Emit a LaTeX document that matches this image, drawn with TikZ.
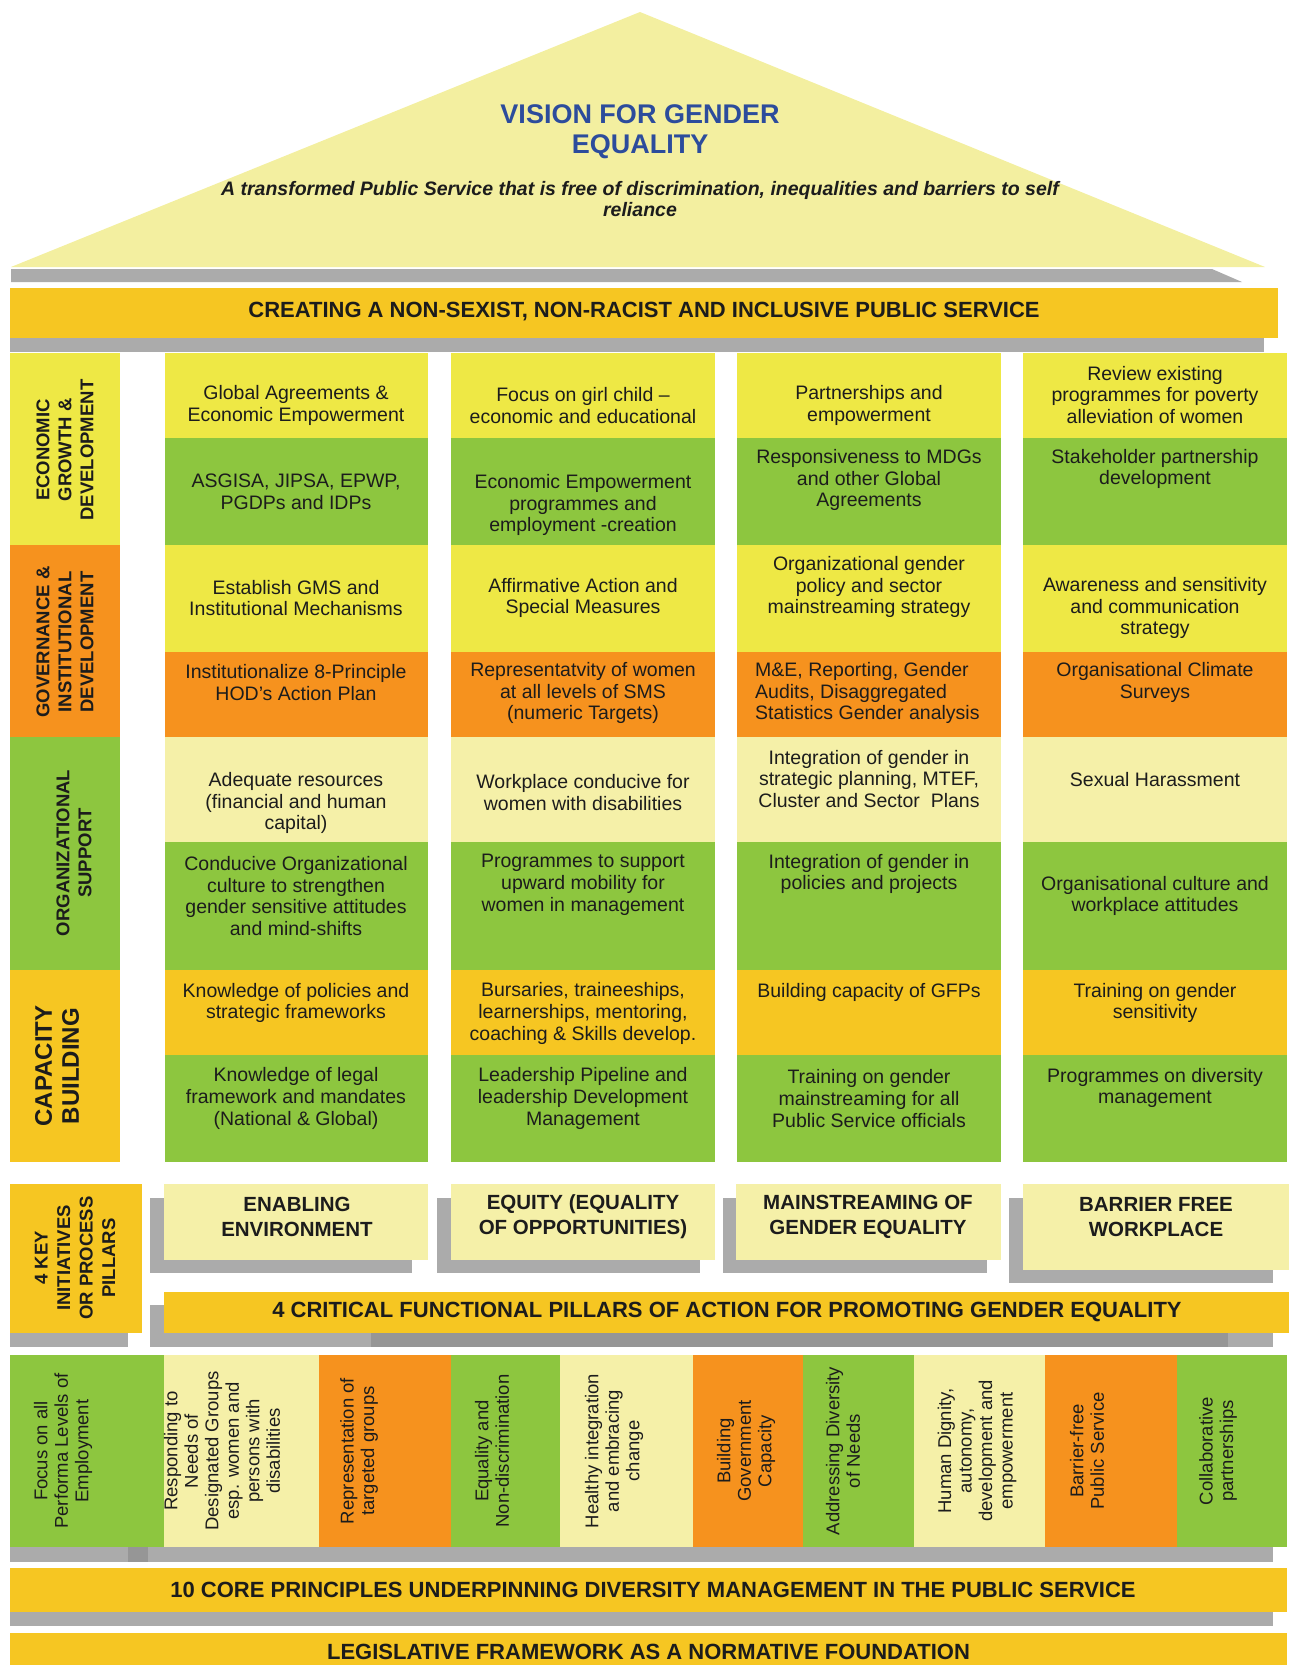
\documentclass[tikz,border=0pt]{standalone}
\usepackage{fontspec}
\setmainfont{Liberation Sans}
\definecolor{cyel}{HTML}{EEE845}
\definecolor{cgrn}{HTML}{8DC63F}
\definecolor{corg}{HTML}{F6921E}
\definecolor{clty}{HTML}{F5F0A8}
\definecolor{cgld}{HTML}{F6C622}
\definecolor{croof}{HTML}{F3EFA0}
\definecolor{cgry}{HTML}{ABABAB}
\definecolor{cgrd}{HTML}{969696}
\definecolor{cblu}{HTML}{2C4C9C}
\definecolor{ctxt}{HTML}{1C1C1C}
\begin{document}
\begin{tikzpicture}[x=1pt,y=-1pt,
  celltxt/.style={align=center,inner sep=0pt,text=ctxt,font=\fontsize{19.5}{21.7}\selectfont},
  cattxt/.style={rotate=90,align=center,inner sep=0pt,text=ctxt,font=\bfseries\fontsize{18.5}{22}\selectfont},
  prtxt/.style={rotate=90,align=center,inner sep=0pt,text=ctxt,font=\fontsize{18.5}{20.5}\selectfont},
  bartxt/.style={inner sep=0pt,text=ctxt,font=\bfseries\fontsize{22}{24}\selectfont},
  pilltxt/.style={align=center,inner sep=0pt,text=ctxt,font=\bfseries\fontsize{20.5}{25}\selectfont},
  vistitle/.style={align=center,inner sep=0pt,text=cblu,font=\bfseries\fontsize{27}{30}\selectfont},
  vissub/.style={align=center,inner sep=0pt,text=ctxt,font=\bfseries\itshape\fontsize{19.5}{21}\selectfont}
]
\useasboundingbox (0,0) rectangle (1292,1665);

% ---------- roof ----------
\fill[croof] (11,267) -- (640,12) -- (1265,267) -- cycle;
\fill[cgry] (11,269) -- (1212,269) -- (1242,282) -- (11,282) -- cycle;
\node[vistitle] (vision) at (640,132) {VISION FOR GENDER\\EQUALITY};
\node[vissub] (visionsub) at (640,199.5) {A transformed Public Service that is free of discrimination, inequalities and barriers to self\\reliance};

% ---------- top bar ----------
\fill[cgry] (10,338) rectangle (1264,352);
\fill[cgld] (10,288) rectangle (1278,338);
\node[bartxt] (creating) at (644,312) {CREATING A NON-SEXIST, NON-RACIST AND INCLUSIVE PUBLIC SERVICE};

% ---------- grid cells ----------
\foreach \xa/\xb in {164.6/428, 451/715, 737/1001, 1023/1287} {
  \foreach \ya/\yb/\cc in {353/437.5/cyel, 437.5/545/cgrn, 545/652/cyel, 652/737/corg, 737/842/clty, 842/970/cgrn, 970/1055/cgld, 1055/1162/cgrn} {
    \fill[\cc] (\xa,\ya) rectangle (\xb,\yb);
  }
}

% ---------- categories ----------
\fill[cyel] (10,353) rectangle (120,545);
\fill[corg] (10,545) rectangle (120,737);
\fill[cgrn] (10,737) rectangle (120,970);
\fill[cgld] (10,970) rectangle (120,1162);
\node[cattxt] (catecon) at (65,450) {ECONOMIC\\GROWTH \&\\DEVELOPMENT};
\node[cattxt] (catgov) at (65,642) {GOVERNANCE \&\\INSTITUTIONAL\\DEVELOPMENT};
\node[cattxt] (catorg) at (74,853) {ORGANIZATIONAL\\SUPPORT};
\node[cattxt,font=\bfseries\fontsize{24}{27}\selectfont] (catcap) at (57,1066) {CAPACITY\\BUILDING};

% ---------- cell texts ----------
% row 1
\node[celltxt] (r1c1) at (296,405.5) {Global Agreements \&\\Economic Empowerment};
\node[celltxt] (r1c2) at (583,405.5) {Focus on girl child –\\economic and educational};
\node[celltxt] (r1c3) at (869,405.5) {Partnerships and\\empowerment};
\node[celltxt] (r1c4) at (1155,395) {Review existing\\programmes for poverty\\alleviation of women};
% row 2
\node[celltxt] (r2c1) at (296,492) {ASGISA, JIPSA, EPWP,\\PGDPs and IDPs};
\node[celltxt] (r2c2) at (583,505) {Economic Empowerment\\programmes and\\employment -creation};
\node[celltxt] (r2c3) at (869,480) {Responsiveness to MDGs\\and other Global\\Agreements};
\node[celltxt] (r2c4) at (1155,469) {Stakeholder partnership\\development};
% row 3
\node[celltxt] (r3c1) at (296,598) {Establish GMS and\\Institutional Mechanisms};
\node[celltxt] (r3c2) at (583,598) {Affirmative Action and\\Special Measures};
\node[celltxt] (r3c3) at (869,587) {Organizational gender\\policy and sector\\mainstreaming strategy};
\node[celltxt] (r3c4) at (1155,608) {Awareness and sensitivity\\and communication\\strategy};
% row 4
\node[celltxt] (r4c1) at (296,682.5) {Institutionalize 8-Principle\\HOD's Action Plan};
\node[celltxt] (r4c2) at (583,693) {Representatvity of women\\at all levels of SMS\\(numeric Targets)};
\node[celltxt,align=left,anchor=west] (r4c3) at (755,693) {M\&E, Reporting, Gender\\Audits, Disaggregated\\Statistics Gender analysis};
\node[celltxt] (r4c4) at (1155,682.5) {Organisational Climate\\Surveys};
% row 5
\node[celltxt] (r5c1) at (296,803) {Adequate resources\\(financial and human\\capital)};
\node[celltxt] (r5c2) at (583,792.5) {Workplace conducive for\\women with disabilities};
\node[celltxt] (r5c3) at (869,779) {Integration of gender in\\strategic planning, MTEF,\\Cluster and Sector~ Plans};
\node[celltxt] (r5c4) at (1155,780) {Sexual Harassment};
% row 6
\node[celltxt] (r6c1) at (296,896) {Conducive Organizational\\culture to strengthen\\gender sensitive attitudes\\and mind-shifts};
\node[celltxt] (r6c2) at (583,885) {Programmes to support\\upward mobility for\\women in management};
\node[celltxt] (r6c3) at (869,874) {Integration of gender in\\policies and projects};
\node[celltxt] (r6c4) at (1155,896) {Organisational culture and\\workplace attitudes};
% row 7
\node[celltxt] (r7c1) at (296,1003) {Knowledge of policies and\\strategic frameworks};
\node[celltxt] (r7c2) at (583,1013.5) {Bursaries, traineeships,\\learnerships, mentoring,\\coaching \& Skills develop.};
\node[celltxt] (r7c3) at (869,992) {Building capacity of GFPs};
\node[celltxt] (r7c4) at (1155,1003) {Training on gender\\sensitivity};
% row 8
\node[celltxt] (r8c1) at (296,1098.5) {Knowledge of legal\\framework and mandates\\(National \& Global)};
\node[celltxt] (r8c2) at (583,1098.5) {Leadership Pipeline and\\leadership Development\\Management};
\node[celltxt] (r8c3) at (869,1098.5) {Training on gender\\mainstreaming for all\\Public Service officials};
\node[celltxt] (r8c4) at (1155,1088) {Programmes on diversity\\management};

% ---------- 4 key pillars ----------
\fill[cgry] (10,1333) rectangle (128,1347);
\fill[cgld] (10,1184) rectangle (142,1333);
\node[cattxt,font=\bfseries\fontsize{18.5}{22.5}\selectfont] (keyp) at (75,1258) {4 KEY\\INITIATIVES\\OR PROCESS\\PILLARS};

\fill[cgry] (150,1198) rectangle (412,1273);
\fill[cgry] (437,1198) rectangle (700,1273);
\fill[cgry] (723,1198) rectangle (987,1273);
\fill[cgry] (1009,1198) rectangle (1273,1283);
\fill[clty] (164,1184) rectangle (428,1260);
\fill[clty] (451,1184) rectangle (715,1260);
\fill[clty] (736,1184) rectangle (1001,1260);
\fill[clty] (1023,1184) rectangle (1289,1270);
\node[pilltxt] (pil1) at (297,1217) {ENABLING\\ENVIRONMENT};
\node[pilltxt] (pil2) at (583,1217) {EQUITY (EQUALITY\\OF OPPORTUNITIES)};
\node[pilltxt] (pil3) at (868,1217) {MAINSTREAMING OF\\GENDER EQUALITY};
\node[pilltxt] (pil4) at (1156,1217) {BARRIER FREE\\WORKPLACE};

\fill[cgry] (150,1305) rectangle (1273,1347);
\fill[cgrd] (371,1333) rectangle (1228,1347);
\fill[cgld] (164,1292) rectangle (1289,1333);
\node[bartxt] (critical) at (727,1312) {4 CRITICAL FUNCTIONAL PILLARS OF ACTION FOR PROMOTING GENDER EQUALITY};

% ---------- 10 principles ----------
\foreach \xa/\xb/\cc in {10/164/cgrn, 164/319/clty, 319/451/corg, 451/560/cgrn, 560/693/clty, 693/803/corg, 803/914/cgrn, 914/1045/clty, 1045/1177/corg, 1177/1287/cgrn} {
  \fill[\cc] (\xa,1355) rectangle (\xb,1547);
}
\fill[cgry] (10,1547) rectangle (1273,1562);
\fill[cgrd] (128,1547) rectangle (148,1562);
\node[prtxt] (p1) at (63,1451) {Focus on all\\Performa Levels of\\Employment};
\node[prtxt] (p2) at (222,1451) {Responding to\\Needs of\\Designated Groups\\esp. women and\\persons with\\disabilities};
\node[prtxt] (p3) at (359,1451) {Representation of\\targeted groups};
\node[prtxt] (p4) at (492,1451) {Equality and\\Non-discrimination};
\node[prtxt] (p5) at (614,1451) {Healthy integration\\and embracing\\change};
\node[prtxt] (p6) at (746,1451) {Building\\Government\\Capacity};
\node[prtxt] (p7) at (843,1451) {Addressing Diversity\\of Needs};
\node[prtxt] (p8) at (977,1451) {Human Dignity,\\autonomy,\\development and\\empowerment};
\node[prtxt] (p9) at (1087,1451) {Barrier-free\\Public Service};
\node[prtxt] (p10) at (1218,1451) {Collaborative\\partnerships};

% ---------- foundation bars ----------
\fill[cgry] (10,1612) rectangle (1273,1626);
\fill[cgld] (10,1568) rectangle (1287,1612);
\node[bartxt] (core) at (653,1590) {10 CORE PRINCIPLES UNDERPINNING DIVERSITY MANAGEMENT IN THE PUBLIC SERVICE};
\fill[cgld] (10,1633) rectangle (1287,1665);
\node[bartxt] (legis) at (648.5,1652) {LEGISLATIVE FRAMEWORK AS A NORMATIVE FOUNDATION};
\end{tikzpicture}
\end{document}
